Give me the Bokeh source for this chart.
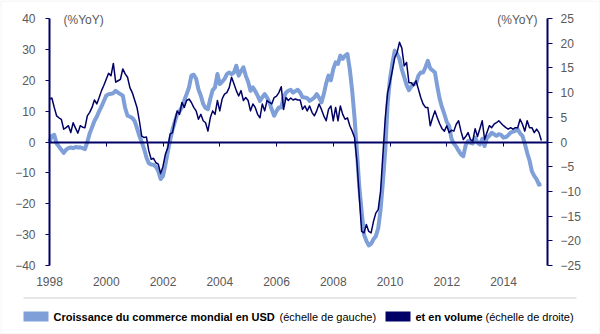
from bokeh.plotting import figure
from bokeh.models import Range1d, LinearAxis, FixedTicker, Label, BoxAnnotation
from bokeh.embed import file_html
from bokeh.resources import INLINE

start_year = 1998

# Croissance du commerce mondial en USD (%YoY, échelle de gauche), monthly from Jan 1998
usd_growth = [
    0.0, 2.0, 2.3, -0.5, -1.5, -2.5, -3.5, -2.5, -2.0, -1.8, -2.0, -1.6,
    -1.8, -1.7, -2.0, -2.3, 0.0, 2.8, 4.8, 6.8, 8.2, 10.0, 11.5, 13.3,
    15.0, 15.5, 15.6, 15.8, 16.6, 16.0, 15.5, 15.0, 11.0, 8.5, 8.2, 7.8,
    6.8, 4.5, 2.0, 0.0, -2.2, -5.0, -6.9, -7.3, -7.4, -8.0, -9.4, -12.0,
    -11.0, -7.4, -3.2, 0.5, 4.0, 6.5, 9.0, 10.0, 11.2, 13.5, 15.5, 17.7,
    21.5, 21.8, 20.5, 17.0, 15.0, 12.3, 11.0, 10.6, 14.0, 16.8, 17.7, 22.0,
    18.8, 19.5, 20.4, 22.0, 22.5, 22.0, 22.5, 24.7, 21.5, 23.0, 24.2, 21.5,
    19.5, 16.6, 17.7, 16.5, 15.0, 13.3, 14.5, 15.5, 14.4, 12.8, 10.5, 8.5,
    10.0, 11.2, 11.2, 14.4, 16.0, 16.6, 16.9, 16.0, 16.5, 16.9, 16.0, 14.5,
    14.4, 14.2, 13.3, 13.8, 14.4, 15.5, 14.4, 12.8, 15.5, 19.0, 21.5, 20.0,
    23.6, 25.8, 25.3, 28.0, 26.9, 28.0, 28.5, 23.5, 16.6, 7.9, -3.0, -14.5,
    -22.5, -30.0, -32.0, -33.5, -33.0, -31.5, -30.5, -28.0, -22.0, -13.0, -2.5, 12.5,
    20.5, 25.5, 29.6, 28.5, 26.9, 23.5, 21.0, 18.5, 16.8, 18.0, 18.8, 19.0,
    21.5, 22.5, 22.5, 24.2, 26.3, 23.8, 23.2, 22.5, 18.0, 14.0, 11.2, 9.0,
    6.5, 5.2, 1.0, -0.5, -1.5, -2.8, -4.0, -4.6, -1.0, 0.3, -0.3, -0.5,
    1.4, -0.2, -0.8, 1.0, -1.3, 1.4, 2.0, 3.0, 2.5, 2.0, 2.5, 2.3,
    1.4, 1.6, 2.2, 3.0, 3.4, 3.6, 4.1, 2.8, 2.0, -0.5, -3.5, -6.0,
    -9.5, -11.0, -12.1, -13.8, -13.6,
]

# et en volume (%YoY, échelle de droite), monthly from Jan 1998
volume_growth = [
    8.7, 8.9, 7.0, 5.3, 4.9, 4.6, 2.6, 2.9, 3.3, 1.9, 3.9, 2.8,
    1.8, 3.3, 3.0, 2.9, 5.3, 6.0, 7.0, 8.5, 7.7, 9.0, 10.4, 11.5,
    12.7, 13.9, 13.4, 15.9, 12.1, 12.4, 12.7, 14.8, 13.8, 13.1, 11.0, 10.0,
    8.5, 7.0, 4.3, 1.2, 0.9, 1.0, -1.8, -3.5, -3.3, -4.2, -4.5, -6.4,
    -4.9, -2.5, -1.2, 1.6, 1.9, 4.3, 6.3, 5.6, 8.0, 7.0, 8.4, 8.7,
    8.0, 7.0, 6.3, 4.6, 5.6, 4.3, 3.9, 2.2, 4.9, 6.3, 5.6, 8.4,
    6.3, 8.7, 9.7, 10.0, 11.0, 13.1, 11.8, 10.4, 9.3, 10.4, 8.4, 9.0,
    8.4, 6.3, 7.7, 7.0, 5.6, 4.9, 7.7, 6.3, 8.4, 8.0, 7.7, 9.0,
    9.3, 10.0, 11.2, 6.6, 9.0, 8.4, 8.9, 8.5, 8.7, 8.5, 8.5, 6.6,
    7.3, 6.3, 7.3, 6.0, 5.3, 6.3, 7.7, 6.6, 5.3, 4.3, 6.6, 7.3,
    4.3, 7.0, 4.3, 7.3, 5.6, 4.6, 4.9, 3.3, 2.2, 0.9, -3.9, -11.0,
    -18.1, -18.4, -16.7, -18.1, -18.4, -16.1, -14.4, -13.7, -10.0, -2.5, 4.9, 10.0,
    12.0, 14.5, 17.1, 18.1, 20.2, 19.0, 15.4, 16.1, 12.0, 12.0, 11.4, 12.4,
    10.7, 9.0, 7.7, 7.0, 7.0, 3.3, 4.9, 6.3, 4.9, 3.7, 2.7, 2.2,
    3.3, 1.9, 2.4, 2.2, 3.6, 4.3, 2.2, 0.5, 1.1, 1.9, 0.5, 0.2,
    2.7, 1.1, 2.7, 4.3, 0.5, 1.9, 3.3, 2.9, 3.6, 3.9, 4.3, 3.8,
    3.3, 2.9, 2.6, 2.9, 2.6, 2.9, 2.9, 4.6, 3.6, 2.2, 4.3, 2.9,
    2.9, 1.9, 2.6, 1.9, 0.3,
]

year_ticks = [1998, 2000, 2002, 2004, 2006, 2008, 2010, 2012, 2014]
left_ticks = [-40, -30, -20, -10, 0, 10, 20, 30, 40]
right_ticks = [-25, -20, -15, -10, -5, 0, 5, 10, 15, 20, 25]
x_end_year = 2015.55
unit_label = "(%YoY)"
legend_usd_bold = "Croissance du commerce mondial en USD"
legend_usd_rest = "(échelle de gauche)"
legend_vol_bold = "et en volume"
legend_vol_rest = "(échelle de droite)"

months = [start_year + i / 12 for i in range(len(usd_growth))]

NAVY = "#000066"
LIGHT = "#7f9fd8"
GRAY = "#595959"
RULE = "#cfcfcf"
FONT = "Liberation Sans"

W, H = 600, 334
# plot area in canvas pixels (axes live inside the full-canvas frame)
AX_L, AX_R, AX_T, AX_B = 49, 547, 18, 265
px_year = (AX_R - AX_L) / (x_end_year - start_year)
px_left = (AX_B - AX_T) / (left_ticks[-1] - left_ticks[0])
px_right = (AX_B - AX_T) / (right_ticks[-1] - right_ticks[0])

x0 = start_year - AX_L / px_year
y0_left = left_ticks[0] - (H - AX_B) / px_left
y0_right = right_ticks[0] - (H - AX_B) / px_right


def px_x(px):
    return x0 + px / px_year


def px_y(py):
    return y0_left + (H - py) / px_left


p = figure(width=W, height=H,
           x_range=Range1d(x0, x0 + W / px_year),
           y_range=Range1d(y0_left, y0_left + H / px_left),
           x_axis_location=None, y_axis_location=None,
           output_backend="svg", toolbar_location=None, min_border=0)
p.extra_y_ranges = {"vol": Range1d(y0_right, y0_right + H / px_right)}
p.grid.visible = False
p.outline_line_color = None
p.background_fill_color = "white"
p.border_fill_color = "white"


def hide_labels(ax):
    ax.major_label_text_color = None
    ax.major_label_text_font_size = "0px"
    ax.major_label_standoff = 0
    ax.minor_tick_line_color = None


def labels_only(ax, standoff):
    ax.axis_line_color = None
    ax.major_tick_line_color = None
    ax.minor_tick_line_color = None
    ax.major_tick_out = 0
    ax.major_tick_in = 0
    ax.major_label_standoff = standoff
    ax.major_label_text_font = FONT
    ax.major_label_text_font_size = "12px"
    ax.major_label_text_color = GRAY


# left axis line (ticks point left -> placed on the right side, ticks "in")
left_line = LinearAxis(fixed_location=start_year, ticker=FixedTicker(ticks=left_ticks),
                       bounds=(left_ticks[0], left_ticks[-1]))
left_line.axis_line_color = NAVY
left_line.axis_line_width = 2
left_line.major_tick_line_color = NAVY
left_line.major_tick_in = 4
left_line.major_tick_out = 0
hide_labels(left_line)
p.add_layout(left_line, "right")

# right axis line (ticks point right)
right_line = LinearAxis(fixed_location=x_end_year, y_range_name="vol",
                        ticker=FixedTicker(ticks=right_ticks),
                        bounds=(right_ticks[0], right_ticks[-1]))
right_line.axis_line_color = NAVY
right_line.axis_line_width = 2
right_line.major_tick_line_color = NAVY
right_line.major_tick_in = 5
right_line.major_tick_out = 0
hide_labels(right_line)
p.add_layout(right_line, "left")

# zero line with ticks pointing down
zero_axis = LinearAxis(fixed_location=0, ticker=FixedTicker(ticks=year_ticks),
                       bounds=(start_year, x_end_year))
zero_axis.axis_line_color = NAVY
zero_axis.axis_line_width = 2
zero_axis.major_tick_line_color = NAVY
zero_axis.major_tick_in = 4
zero_axis.major_tick_out = 0
hide_labels(zero_axis)
p.add_layout(zero_axis, "above")

# tick labels
left_lab = LinearAxis(fixed_location=px_x(35 - 17), ticker=FixedTicker(ticks=left_ticks))
labels_only(left_lab, -17)
p.add_layout(left_lab, "left")

right_lab = LinearAxis(fixed_location=px_x(560 + 17), y_range_name="vol",
                       ticker=FixedTicker(ticks=right_ticks))
labels_only(right_lab, -17)
p.add_layout(right_lab, "right")

year_lab = LinearAxis(fixed_location=px_y(276 + 15), ticker=FixedTicker(ticks=year_ticks))
labels_only(year_lab, -15)
p.add_layout(year_lab, "below")

# series
p.line(months, usd_growth, line_color=LIGHT, line_width=4, line_join="round")
p.line(months, volume_growth, y_range_name="vol", line_color=NAVY, line_width=1.5,
       line_join="round")

# unit labels
p.add_layout(Label(x=63, y=19.5, x_units="canvas", y_units="canvas", text=unit_label,
                   text_font=FONT, text_font_size="12px", text_color=GRAY,
                   text_baseline="middle", text_align="left"))
p.add_layout(Label(x=537, y=19.5, x_units="canvas", y_units="canvas", text=unit_label,
                   text_font=FONT, text_font_size="12px", text_color=GRAY,
                   text_baseline="middle", text_align="right"))


def canvas_box(left, right, top, bottom, fill, line=None):
    return BoxAnnotation(left=left, right=right, top=top, bottom=bottom,
                         left_units="canvas", right_units="canvas",
                         top_units="canvas", bottom_units="canvas",
                         fill_color=fill, fill_alpha=1, line_color=line, line_width=1)


# legend
p.add_layout(canvas_box(23, 576, 297, 298, RULE))
p.add_layout(canvas_box(23, 48, 311, 321, LIGHT))
p.add_layout(canvas_box(385, 410, 311, 321, NAVY))
for x, txt, style in [(53, legend_usd_bold, "bold"), (279, legend_usd_rest, "normal"),
                      (415, legend_vol_bold, "bold"), (485, legend_vol_rest, "normal")]:
    p.add_layout(Label(x=x, y=316, x_units="canvas", y_units="canvas", text=txt,
                       text_font=FONT, text_font_size="11px", text_font_style=style,
                       text_color="#000000", text_baseline="middle", text_align="left"))

# outer frame
p.add_layout(canvas_box(0.5, W - 0.5, 0.5, H - 0.5, None, RULE))

open("out.html", "w").write(file_html(p, INLINE))
